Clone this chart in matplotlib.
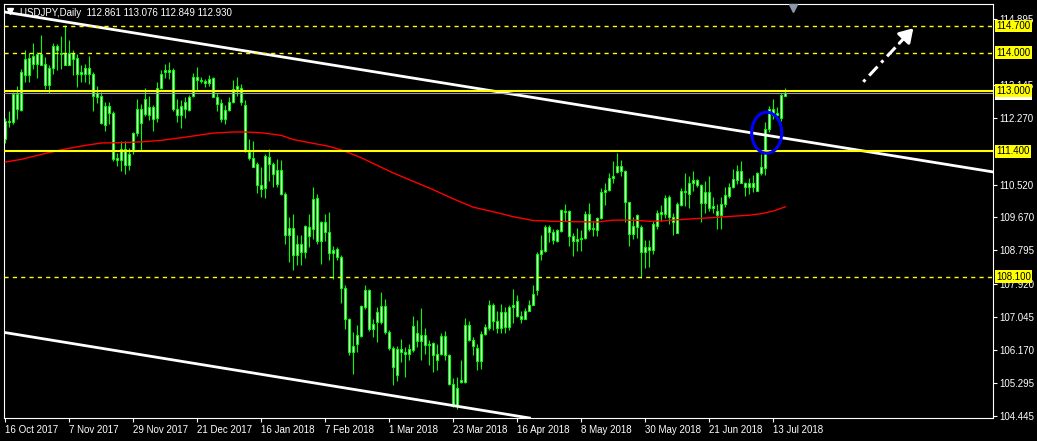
import numpy as np
import pandas as pd
import matplotlib
matplotlib.use("Agg")
import matplotlib.pyplot as plt
from matplotlib.patches import Ellipse
from matplotlib.transforms import blended_transform_factory

# USDJPY daily candles, 16 Oct 2017 .. 18 Jul 2018
opens = [111.72, 112.19, 112.16, 112.91, 112.50, 113.40, 113.87, 113.71, 113.96, 113.68,
         113.71, 113.15, 113.59, 114.17, 114.00, 113.68, 114.00, 113.84, 113.87, 113.44,
         113.44, 113.60, 113.44, 112.83, 112.87, 112.10, 112.60, 112.41, 111.16, 111.16,
         111.45, 111.05, 111.41, 111.88, 112.51, 112.38, 112.58, 112.58, 112.27, 113.06,
         113.50, 113.53, 113.53, 112.51, 112.35, 112.51, 112.50, 112.85, 113.37, 113.29,
         113.25, 113.20, 113.33, 112.84, 112.68, 112.25, 112.49, 112.71, 113.04, 113.07,
         112.62, 111.38, 111.23, 111.07, 110.52, 110.43, 111.25, 111.07, 110.54, 110.91,
         110.28, 109.20, 109.39, 108.66, 108.95, 108.75, 109.17, 109.36, 110.18, 109.03,
         109.54, 109.27, 108.72, 108.83, 108.61, 107.80, 106.99, 106.11, 106.33, 106.55,
         107.30, 107.75, 106.73, 106.90, 106.90, 107.32, 106.64, 106.23, 105.51, 106.21,
         106.12, 106.08, 106.18, 106.63, 106.41, 106.58, 106.31, 106.36, 105.92, 106.08,
         106.53, 106.05, 105.29, 104.69, 105.33, 105.33, 106.84, 106.43, 106.23, 105.88,
         106.60, 106.75, 107.36, 106.93, 106.75, 107.17, 106.78, 107.30, 107.46, 107.08,
         107.00, 107.21, 107.36, 107.76, 108.70, 108.79, 109.40, 109.27, 109.04, 109.30,
         109.84, 109.82, 109.17, 109.05, 109.10, 109.12, 109.74, 109.36, 109.33, 109.64,
         110.34, 110.38, 110.71, 110.85, 111.02, 110.89, 110.06, 109.22, 109.40, 109.40,
         108.74, 108.89, 108.80, 109.44, 109.75, 109.75, 110.19, 109.66, 109.26, 109.99,
         110.34, 110.29, 110.58, 110.64, 110.51, 110.04, 110.32, 109.92, 109.82, 109.72,
         110.01, 110.23, 110.47, 110.64, 110.89, 110.56, 110.45, 110.56, 110.36, 110.82,
         110.96, 111.99, 112.52, 112.36, 112.27, 112.861]
highs = [112.27, 112.45, 112.96, 113.13, 113.57, 114.08, 113.99, 114.24, 114.02, 114.46,
         113.89, 113.66, 114.26, 114.22, 114.43, 114.73, 114.33, 114.06, 113.97, 113.66,
         113.71, 113.90, 113.49, 113.11, 112.96, 112.71, 112.69, 112.47, 111.36, 111.66,
         111.67, 111.50, 111.92, 112.78, 112.65, 113.07, 112.87, 112.63, 113.22, 113.55,
         113.71, 113.74, 113.60, 112.78, 112.74, 112.84, 112.89, 113.46, 113.61, 113.37,
         113.31, 113.40, 113.35, 112.94, 112.78, 112.61, 112.84, 113.28, 113.37, 113.16,
         112.75, 111.73, 111.68, 111.11, 110.98, 111.33, 111.47, 111.11, 111.20, 111.18,
         110.33, 109.67, 109.75, 109.21, 109.21, 109.45, 109.74, 110.47, 110.28, 109.58,
         109.75, 109.80, 108.92, 108.88, 108.66, 107.87, 107.02, 106.64, 106.82, 107.36,
         107.87, 107.78, 106.99, 107.30, 107.69, 107.52, 106.70, 106.29, 106.27, 106.47,
         106.25, 106.32, 107.06, 106.97, 107.28, 106.76, 106.43, 106.38, 106.32, 106.62,
         106.66, 106.08, 105.44, 105.45, 105.92, 107.02, 106.93, 106.51, 106.32, 106.67,
         106.85, 107.50, 107.41, 107.21, 107.39, 107.30, 107.36, 107.78, 107.61, 107.21,
         107.28, 107.50, 107.87, 108.76, 109.21, 109.45, 109.47, 109.36, 109.36, 109.89,
         110.02, 109.86, 109.26, 109.39, 109.32, 109.84, 110.03, 109.58, 109.68, 110.43,
         110.58, 110.82, 111.15, 111.37, 111.17, 110.91, 110.08, 109.66, 109.75, 109.47,
         109.06, 109.06, 109.57, 109.85, 109.99, 110.25, 110.25, 109.79, 110.07, 110.43,
         110.83, 110.76, 110.89, 110.67, 110.54, 110.63, 110.74, 110.19, 110.01, 110.20,
         110.45, 110.58, 110.93, 111.05, 111.14, 110.60, 110.71, 110.78, 110.85, 111.33,
         112.17, 112.60, 112.79, 112.58, 112.94, 113.076]
lows = [111.63, 112.03, 112.12, 112.25, 112.47, 113.22, 113.22, 113.58, 113.34, 113.66,
        113.04, 112.93, 113.44, 113.53, 113.58, 113.66, 113.66, 113.40, 113.09, 113.22,
        113.22, 113.18, 112.45, 112.68, 112.12, 111.94, 112.12, 111.14, 111.01, 110.88,
        110.81, 110.92, 111.32, 111.81, 111.43, 112.34, 112.23, 111.94, 112.16, 113.04,
        113.34, 113.31, 112.47, 112.16, 112.01, 112.29, 112.45, 112.82, 113.00, 113.19,
        113.09, 113.13, 112.83, 112.47, 112.17, 112.12, 112.46, 112.67, 112.87, 112.61,
        111.38, 111.18, 110.98, 110.30, 110.21, 110.18, 110.63, 110.47, 110.46, 110.24,
        108.97, 108.48, 108.28, 108.42, 108.40, 108.60, 108.88, 109.10, 108.97, 108.44,
        109.05, 108.54, 108.04, 108.53, 107.40, 106.73, 106.03, 105.54, 106.11, 106.51,
        107.25, 106.68, 106.51, 106.38, 106.86, 106.60, 106.16, 105.24, 105.36, 105.86,
        105.46, 105.90, 106.12, 106.25, 105.92, 106.08, 105.77, 105.59, 105.64, 106.05,
        105.92, 105.24, 104.68, 104.63, 105.31, 105.30, 106.41, 106.03, 105.64, 105.68,
        106.58, 106.69, 106.71, 106.62, 106.62, 106.62, 106.69, 106.88, 107.04, 106.88,
        106.98, 107.20, 107.35, 107.63, 108.55, 108.76, 109.01, 108.95, 109.01, 109.27,
        109.58, 108.90, 108.64, 108.79, 108.79, 109.10, 109.30, 109.16, 109.18, 109.62,
        109.99, 110.35, 110.56, 110.82, 110.76, 109.53, 108.91, 109.09, 109.13, 108.08,
        108.32, 108.36, 108.69, 109.35, 109.57, 109.64, 109.48, 109.20, 109.24, 109.97,
        109.97, 109.91, 110.36, 110.45, 109.53, 109.79, 109.84, 109.79, 109.35, 109.35,
        109.94, 110.17, 110.43, 110.54, 110.56, 110.23, 110.28, 110.32, 110.35, 110.78,
        110.78, 111.90, 112.25, 112.27, 112.21, 112.849]
closes = [112.19, 112.17, 112.91, 112.51, 113.50, 113.84, 113.42, 113.90, 113.71, 113.96,
          113.15, 113.60, 114.17, 114.08, 113.95, 114.00, 113.68, 114.00, 113.44, 113.50,
          113.60, 113.44, 112.85, 112.93, 112.14, 112.60, 112.40, 111.19, 111.23, 111.47,
          111.05, 111.34, 111.88, 112.51, 112.14, 112.78, 112.35, 112.25, 113.06, 113.44,
          113.53, 113.50, 112.51, 112.35, 112.60, 112.71, 112.84, 113.37, 113.28, 113.25,
          113.20, 113.31, 112.84, 112.65, 112.25, 112.49, 112.71, 113.04, 113.11, 112.71,
          111.42, 111.23, 111.00, 110.52, 110.41, 111.29, 111.07, 110.81, 110.91, 110.28,
          109.20, 109.39, 108.66, 108.95, 108.75, 109.43, 109.40, 110.15, 109.03, 109.54,
          109.27, 108.72, 108.81, 108.61, 107.80, 106.99, 106.11, 106.29, 106.57, 107.32,
          107.75, 106.73, 106.86, 107.17, 107.32, 106.64, 106.23, 105.72, 106.21, 106.12,
          106.08, 106.21, 106.80, 106.41, 106.58, 106.31, 106.34, 106.03, 106.08, 106.53,
          106.05, 105.29, 104.69, 105.16, 105.39, 106.84, 106.43, 106.27, 105.88, 106.60,
          106.79, 107.36, 106.93, 106.75, 107.17, 106.78, 107.30, 107.35, 107.08, 107.00,
          107.21, 107.36, 107.65, 108.70, 108.81, 109.42, 109.27, 109.07, 109.32, 109.86,
          109.80, 109.17, 109.04, 109.10, 109.12, 109.74, 109.36, 109.39, 109.65, 110.34,
          110.38, 110.71, 110.76, 111.02, 110.87, 110.06, 109.22, 109.44, 109.72, 108.74,
          108.89, 108.80, 109.48, 109.79, 109.81, 110.17, 109.66, 109.53, 110.01, 110.35,
          110.36, 110.58, 110.65, 110.52, 110.04, 110.32, 109.92, 109.97, 109.72, 110.01,
          110.25, 110.47, 110.67, 110.89, 110.58, 110.45, 110.56, 110.45, 110.82, 110.98,
          111.99, 112.52, 112.36, 112.42, 112.88, 112.930]

# moving average (red), sampled at these bar numbers
ma_bars = [0, 4, 9, 14, 19, 24, 29, 34, 39, 44, 48, 52, 57, 60, 64, 69, 72, 77, 81, 85,
           89, 93, 97, 102, 107, 112, 117, 122, 127, 132, 137, 142, 148, 152, 157, 161,
           164, 171, 176, 180, 186, 189, 192, 195]
ma_vals = [111.12, 111.19, 111.32, 111.44, 111.54, 111.62, 111.63, 111.65, 111.69, 111.76,
           111.82, 111.88, 111.91, 111.91, 111.89, 111.82, 111.71, 111.61, 111.53, 111.40,
           111.23, 111.03, 110.83, 110.61, 110.39, 110.15, 109.93, 109.81, 109.68, 109.58,
           109.56, 109.55, 109.54, 109.59, 109.59, 109.56, 109.57, 109.62, 109.65, 109.68,
           109.72, 109.76, 109.83, 109.94]

date_labels = ["16 Oct 2017", "7 Nov 2017", "29 Nov 2017", "21 Dec 2017", "16 Jan 2018",
               "7 Feb 2018", "1 Mar 2018", "23 Mar 2018", "16 Apr 2018", "8 May 2018",
               "30 May 2018", "21 Jun 2018", "13 Jul 2018"]
price_ticks = [114.895, 113.145, 112.270, 110.520, 109.670, 108.795,
               107.920, 107.045, 106.170, 105.295, 104.445]

solid_levels = [113.0, 111.4]
dashed_levels = [114.7, 114.0, 108.1]
bid = 112.930

# channel lines (bar, price)
upper_line = [(0, 115.065), (246.85, 110.86)]
lower_line = [(0, 106.63), (131.2, 104.38)]
arrow_start = (214.5, 113.23)
arrow_end = (227.0, 114.64)
circle_center = (190.35, 111.89)

plt.rcParams['font.family'] = ['Liberation Sans', 'DejaVu Sans']

dates = pd.bdate_range("2017-10-16", periods=len(opens), freq="C",
                       holidays=["2017-12-25", "2018-01-01"])
x = np.arange(len(opens))
o = np.array(opens); h = np.array(highs); l = np.array(lows); c = np.array(closes)

fig = plt.figure(figsize=(10.37, 4.41), dpi=100, facecolor='black')
ax = fig.add_axes([4 / 1037, 23 / 441, 988.7 / 1037, 414 / 441])
ax.set_facecolor('black')
ax.set_xlim(-0.33, 246.85)
ax.set_ylim(104.383, 115.278)

# candles
ax.vlines(x, l, h, color='#00ff00', lw=0.8, zorder=2)
ax.bar(x, np.abs(c - o), bottom=np.minimum(o, c), width=0.5, color='white',
       edgecolor='#00ff00', linewidth=0.8, zorder=2)

ax.plot(ma_bars, ma_vals, color='#ff0000', lw=1, zorder=3)

# channel
ax.axline(upper_line[0], upper_line[1], color='white', lw=2, zorder=4)
ax.axline(lower_line[0], lower_line[1], color='white', lw=2, zorder=4)

# horizontal levels
for lv in solid_levels:
    ax.axhline(lv, color='#ffff00', lw=1.5, zorder=5)
for lv in dashed_levels:
    ax.axhline(lv, color='#ffff00', lw=1.0, ls=(0, (3, 3)), zorder=5)
ax.axhline(bid, color='#9a9a9a', lw=0.8, zorder=4)

ax.add_patch(Ellipse(circle_center, width=7.5, height=1.08, fill=False,
                     ec='#0000ff', lw=2.2, zorder=6))

# dash-dot arrow
mid = (arrow_start[0] + 0.72 * (arrow_end[0] - arrow_start[0]),
       arrow_start[1] + 0.72 * (arrow_end[1] - arrow_start[1]))
ax.plot([arrow_start[0], mid[0]], [arrow_start[1], mid[1]], color='white', lw=2.2,
        ls=(0, (1, 1.8, 4, 1.8)), solid_capstyle='butt', zorder=6)
ax.annotate("", xy=arrow_end, xytext=mid,
            arrowprops=dict(arrowstyle='-|>,head_length=0.8,head_width=0.5',
                            color='white', lw=2.2, shrinkA=0, shrinkB=0), zorder=6)

# axes styling
for sp in ax.spines.values():
    sp.set_color('white')
    sp.set_linewidth(0.8)
ax.yaxis.tick_right()
ax.set_yticks(price_ticks)
ax.set_yticklabels([f"{p:.3f}" for p in price_ticks])
tick_pos = dates.get_indexer(pd.to_datetime(date_labels, format="%d %b %Y"))
ax.set_xticks(tick_pos)
ax.set_xticklabels(date_labels)
for lab in ax.get_xticklabels():
    lab.set_ha('left')
ax.tick_params(colors='white', labelsize=7, length=3, width=0.8, pad=2)

trans = blended_transform_factory(ax.transAxes, ax.transData)
ax.text(1.0035, bid, f"{bid:.3f}", transform=trans, va='center', ha='left',
        fontsize=7, color='black', clip_on=False, zorder=9,
        bbox=dict(boxstyle='square,pad=0.15', fc='white', ec='none'))
for lv in solid_levels + dashed_levels:
    ax.text(1.0035, lv, f"{lv:.3f}", transform=trans, va='center', ha='left',
            fontsize=7, color='black', clip_on=False, zorder=10,
            bbox=dict(boxstyle='square,pad=0.15', fc='#ffff00', ec='none'))

# header and markers
ax.plot([0.006], [0.982], marker='v', color='white', ms=5, transform=ax.transAxes,
        clip_on=False, zorder=11)
ax.text(0.016, 0.979, "USDJPY,Daily  112.861 113.076 112.849 112.930",
        transform=ax.transAxes, color='white', fontsize=7, va='center', ha='left',
        zorder=11)
ax.plot([197], [0.99], marker='v', color='#8a9aa8', ms=6,
        transform=blended_transform_factory(ax.transData, ax.transAxes),
        clip_on=False, zorder=11)

fig.savefig("out.png", dpi=100, facecolor='black')
